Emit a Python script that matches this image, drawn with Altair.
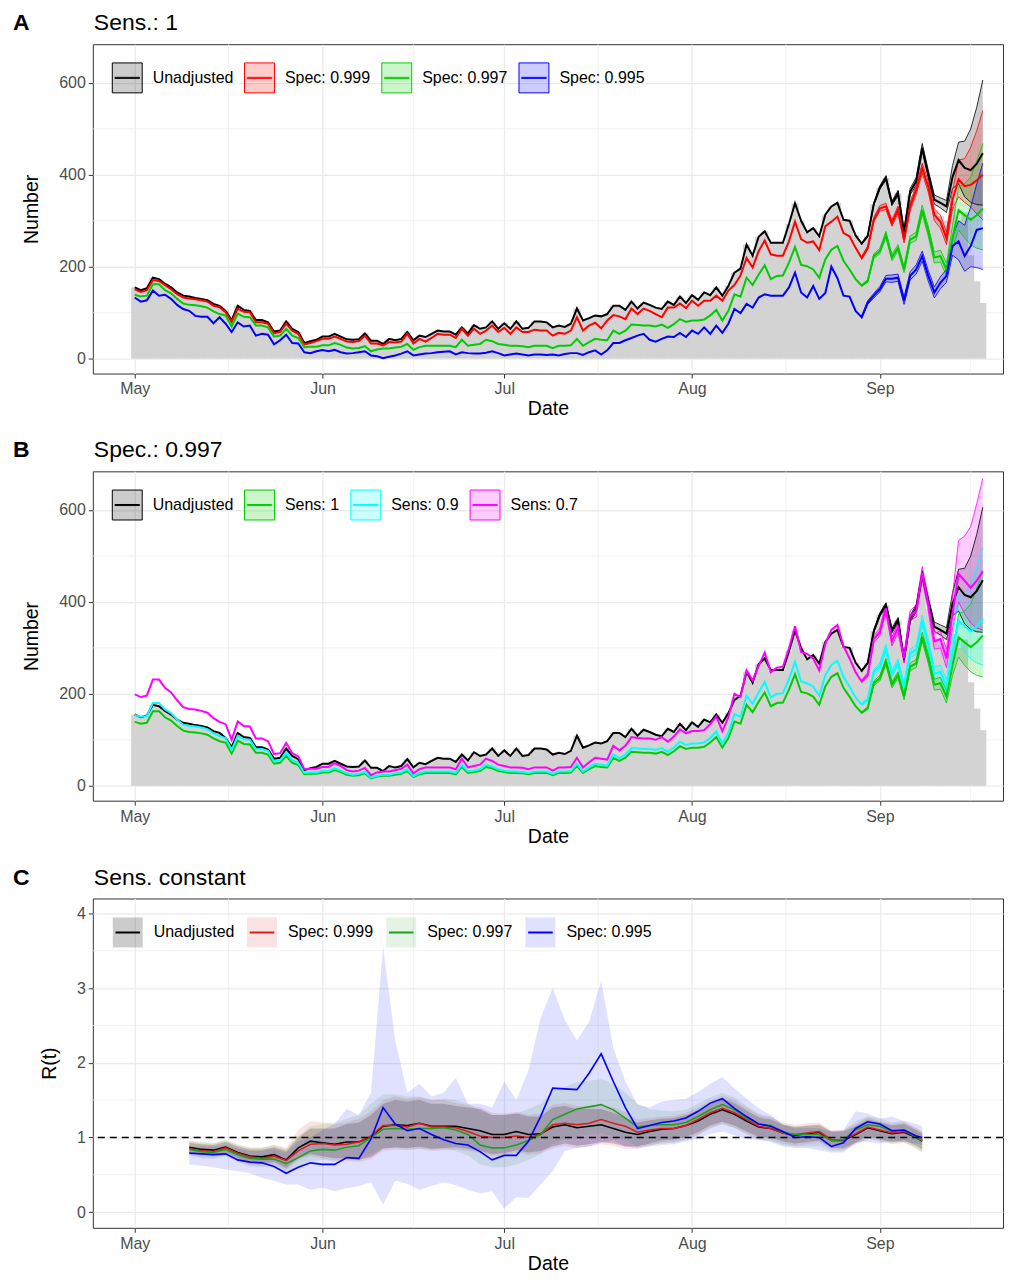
import altair as alt
import pandas as pd

FONT = "Liberation Sans"

# ---------------- data: panels A / B (daily, 1 May .. 18 Sep) ----------------
DATES = pd.date_range("2020-05-01", periods=141)
RIB_DATES = pd.date_range("2020-08-29", periods=21)

UNADJ = [155,149,153,176,173,163,155,144,137,135,
         132,130,127,119,115,104,84,115,106,104,
         84,84,79,59,61,81,65,58,34,38,
         41,48,48,54,48,42,41,42,55,39,
         39,32,43,40,43,58,40,50,47,54,
         61,59,59,52,68,55,73,65,68,81,
         65,77,65,81,65,67,81,81,79,68,
         72,69,76,109,83,88,94,92,97,115,
         115,106,124,109,122,117,111,108,124,117,
         135,121,138,128,144,138,155,137,158,187,
         196,248,224,265,277,252,252,252,293,338,
         300,275,284,266,313,331,339,302,300,268,
         250,267,336,372,393,338,360,275,363,386,
         459,401,346,339,331,395,432,415,410,424,447]
BARS_TAIL = [355,372,440,385,320,310,300,330,300,318,225,168,121]
BARS = UNADJ[:128] + BARS_TAIL

SPEC999 = [151,145,149,171,169,160,151,140,133,131,
           129,127,124,115,112,101,80,109,102,101,
           79,79,76,55,58,76,61,54,31,34,
           38,43,43,48,43,37,36,38,50,33,
           33,29,36,35,37,54,33,43,37,45,
           54,52,52,45,65,50,65,54,61,72,
           58,67,54,68,58,58,63,61,61,50,
           56,54,61,90,61,72,78,66,83,95,
           92,86,109,97,109,104,97,90,111,111,
           120,110,126,115,126,126,137,126,148,160,
           181,219,198,234,257,227,224,224,255,298,
           260,252,255,236,288,298,309,273,266,241,
           219,241,302,327,331,295,324,259,331,367,
           414,374,313,298,262,345,390,375,378,388,400]
SPEC997 = [139,135,137,162,162,149,142,130,120,117,
           116,114,111,103,97,94,70,98,91,90,
           72,72,68,48,50,65,50,45,25,26,
           26,29,29,34,30,24,22,23,27,16,
           20,22,22,24,26,32,19,25,28,28,
           28,28,28,25,41,28,30,32,41,38,
           32,30,28,28,27,25,28,28,28,23,
           28,28,29,43,28,36,43,41,40,61,
           54,61,74,73,72,72,70,74,67,75,
           86,80,83,83,85,94,106,83,104,140,
           135,176,160,183,203,173,180,181,209,243,
           204,201,194,176,216,237,245,213,194,173,
           159,169,223,234,270,220,241,194,259,266,
           324,277,220,223,194,262,323,312,302,312,327]
SPEC995 = [133,124,127,148,137,139,130,117,108,104,
           93,91,91,77,90,76,58,79,70,72,
           50,54,52,31,40,52,34,33,14,12,
           16,19,16,19,14,11,12,14,16,7,
           5,1,4,7,11,16,7,9,11,12,
           14,15,16,9,14,12,11,11,13,16,
           12,7,9,11,9,7,9,9,8,9,
           7,10,12,12,8,14,18,9,18,34,
           34,40,45,50,54,41,37,43,48,47,
           56,47,61,54,68,54,72,56,76,108,
           99,119,111,133,140,137,137,137,155,187,
           144,133,158,130,143,200,175,137,135,104,
           90,122,137,151,174,174,176,126,180,194,
           223,180,144,165,180,245,255,223,245,280,284]
SENS09 = [154,150,152,180,180,166,158,144,133,130,
          129,127,123,114,108,104,78,109,101,100,
          80,80,76,53,56,72,56,50,28,29,
          29,32,32,38,33,27,24,26,30,18,
          22,24,24,27,29,36,21,28,31,31,
          31,31,31,28,46,31,33,36,46,42,
          36,33,31,31,30,28,31,31,31,26,
          31,31,32,48,31,40,48,46,44,68,
          60,68,82,81,80,80,78,82,74,83,
          96,89,92,92,94,104,118,92,116,156,
          150,196,178,203,226,192,200,201,232,270,
          227,223,216,196,240,263,272,237,216,192,
          177,188,248,260,300,244,268,216,288,296,
          360,308,244,248,216,291,359,347,336,347,363]
SENS07 = [199,193,196,231,231,213,203,186,171,167,
          166,163,159,147,139,134,100,140,130,129,
          103,103,97,69,71,93,71,64,36,37,
          37,41,41,49,43,34,31,33,39,23,
          29,31,31,34,37,46,27,36,40,40,
          40,40,40,36,59,40,43,46,59,54,
          46,43,40,40,39,36,40,40,40,33,
          40,40,41,61,40,51,61,59,57,87,
          77,87,106,104,103,103,100,106,96,107,
          123,114,119,119,121,134,151,119,149,200,
          193,251,229,261,290,247,257,259,299,347,
          291,287,277,251,309,339,350,304,277,247,
          227,241,319,334,386,314,344,277,370,380,
          463,396,314,319,277,374,461,446,431,446,467]

# uncertainty bands over the last three weeks (29 Aug .. 18 Sep)
UNADJ_LO = [248,265,333,368,388,333,354,270,356,378,450,392,336,328,318,370,380,352,340,335,334]
UNADJ_HI = [252,269,339,376,398,343,366,280,370,394,468,410,356,350,344,420,471,473,500,547,606]
S999_LO = [216,237,297,321,324,288,316,252,322,357,403,362,300,284,248,325,352,340,330,315,302]
S999_HI = [222,245,307,333,338,302,332,266,340,377,425,386,326,312,276,365,432,435,460,496,540]
S997_LO = [157,166,218,228,263,213,234,187,251,257,314,266,208,210,180,240,280,262,248,240,237]
S997_HI = [161,172,228,240,277,227,248,201,267,275,334,288,232,236,208,290,374,380,395,430,468]
S995_LO = [87,118,132,145,167,166,168,118,171,184,212,168,132,152,166,225,215,190,200,198,194]
S995_HI = [93,126,142,157,181,182,184,134,189,204,234,192,156,178,194,265,300,290,330,380,425]
SE09_LO = [174,184,242,253,292,237,260,208,279,286,349,296,231,233,200,267,311,291,276,267,263]
SE09_HI = [179,191,253,267,308,252,276,223,297,306,371,320,258,262,231,322,416,422,439,478,520]
SE07_LO = [224,237,311,326,376,304,334,267,359,367,449,380,297,300,257,343,400,374,354,343,339]
SE07_HI = [230,246,326,343,396,324,354,287,381,393,477,411,331,337,297,414,534,543,564,614,669]

# ---------------- data: panel C (R(t), every 2nd day 10 May .. 8 Sep) ----------------
C_DATES = list(pd.date_range("2020-05-10", periods=61, freq="2D")) + [pd.Timestamp("2020-09-08")]
R_UNADJ = [.87,.84,.83,.87,.80,.75,.74,.77,.70,.86, .95,.93,.91,.94,.94,1.01,1.15,1.17,1.16,1.19,
           1.15,1.15,1.15,1.12,1.09,1.04,1.04,1.08,1.04,1.05, 1.14,1.17,1.13,1.15,1.17,1.12,1.07,1.04,1.08,1.11,
           1.12,1.16,1.22,1.31,1.37,1.31,1.22,1.14,1.12,1.06, 1.03,1.05,1.07,.96,.96,1.04,1.13,1.09,1.05,1.07,
           1.0,.95]
R_S999 = [.85,.82,.81,.86,.79,.74,.72,.75,.69,.82, .91,.92,.90,.91,.94,1.02,1.16,1.16,1.14,1.19,
          1.14,1.14,1.13,1.08,1.02,1.00,1.00,1.02,1.00,1.04, 1.17,1.19,1.17,1.19,1.24,1.19,1.15,1.07,1.10,1.12,
          1.12,1.16,1.24,1.33,1.39,1.33,1.24,1.15,1.12,1.06, 1.04,1.06,1.08,.97,.97,1.05,1.14,1.10,1.06,1.08,
          1.02,.97]
R_S997 = [.84,.81,.80,.84,.77,.72,.71,.71,.65,.73, .82,.84,.83,.87,.89,1.0,1.11,1.12,1.11,1.12,
          1.12,1.13,1.10,1.04,.90,.86,.86,.90,.96,1.04, 1.24,1.31,1.38,1.41,1.44,1.37,1.26,1.14,1.16,1.17,
          1.17,1.2,1.28,1.37,1.44,1.37,1.26,1.18,1.16,1.07, 1.04,1.04,1.04,.96,.97,1.1,1.17,1.15,1.08,1.10,
          1.0,.96]
R_S995 = [.79,.78,.77,.78,.70,.67,.66,.61,.52,.60, .66,.64,.64,.73,.72,.98,1.40,1.18,1.09,1.12,
          1.04,.97,.92,.90,.81,.70,.76,.76,.95,1.28, 1.66,1.65,1.64,1.86,2.12,1.75,1.40,1.12,1.16,1.20,
          1.22,1.26,1.35,1.46,1.52,1.39,1.28,1.18,1.15,1.08, 1.0,1.01,1.0,.88,.93,1.12,1.21,1.18,1.09,1.10,
          1.02,1.0]
R_UNADJ_HI = [.93,.91,.90,.94,.88,.84,.84,.87,.82,1.0, 1.12,1.12,1.12,1.18,1.2,1.3,1.45,1.5,1.48,1.5,
              1.45,1.45,1.42,1.4,1.38,1.3,1.3,1.32,1.28,1.28, 1.4,1.42,1.38,1.38,1.38,1.33,1.26,1.2,1.23,1.25,
              1.26,1.3,1.36,1.45,1.52,1.46,1.36,1.27,1.24,1.17, 1.14,1.16,1.17,1.08,1.08,1.15,1.24,1.2,1.16,1.18,
              1.1,1.05]
R_UNADJ_LO = [.80,.77,.76,.80,.72,.66,.65,.67,.59,.72, .78,.75,.72,.72,.70,.74,.85,.87,.86,.88,
              .85,.86,.87,.85,.82,.78,.79,.83,.80,.82, .88,.92,.89,.91,.94,.92,.88,.88,.92,.96,
              .97,1.01,1.07,1.16,1.21,1.16,1.08,1.01,1.0,.95, .92,.94,.96,.86,.86,.93,1.02,.98,.94,.96,
              .89,.84]
R_S999_HI = [.95,.93,.92,.96,.90,.86,.86,.90,.86,1.1, 1.22,1.2,1.18,1.2,1.25,1.35,1.5,1.55,1.52,1.54,
             1.5,1.5,1.46,1.43,1.4,1.33,1.32,1.34,1.3,1.32, 1.44,1.46,1.42,1.42,1.44,1.4,1.34,1.24,1.26,1.28,
             1.29,1.33,1.4,1.49,1.56,1.5,1.4,1.3,1.27,1.2, 1.17,1.19,1.2,1.1,1.1,1.18,1.27,1.22,1.18,1.2,
             1.13,1.08]
R_S999_LO = [.77,.74,.73,.77,.69,.63,.62,.64,.56,.69, .75,.72,.69,.69,.67,.71,.82,.84,.83,.85,
             .82,.83,.84,.82,.79,.75,.76,.80,.77,.79, .85,.89,.86,.88,.91,.89,.85,.85,.89,.93,
             .94,.98,1.04,1.13,1.18,1.13,1.05,.98,.97,.92, .89,.91,.93,.85,.84,.90,.99,.95,.91,.93,
             .86,.81]
R_S997_HI = [.96,.94,.93,.97,.91,.87,.87,.9,.85,1.02, 1.15,1.18,1.2,1.25,1.3,1.45,1.58,1.58,1.55,1.55,
             1.5,1.52,1.5,1.45,1.35,1.3,1.3,1.32,1.38,1.45, 1.62,1.68,1.74,1.76,1.78,1.72,1.6,1.45,1.38,1.36,
             1.35,1.37,1.45,1.54,1.6,1.54,1.42,1.32,1.28,1.18, 1.15,1.15,1.16,1.08,1.09,1.22,1.28,1.26,1.2,1.22,
             1.12,1.08]
R_S997_LO = [.75,.72,.71,.75,.67,.61,.60,.60,.52,.60, .68,.70,.68,.70,.70,.78,.86,.86,.85,.85,
             .84,.85,.82,.76,.64,.6,.6,.64,.7,.78, .92,.98,1.02,1.04,1.06,1.02,.96,.88,.9,.92,
             .93,.96,1.03,1.12,1.18,1.13,1.04,.97,.95,.9, .88,.88,.88,.82,.82,.92,.98,.96,.92,.94,
             .85,.8]
R_S995_HI = [.88,.88,.88,.90,.85,.82,.82,.85,.80,.95, 1.0,1.1,1.18,1.38,1.3,1.6,3.55,2.3,1.6,1.72,
             1.55,1.6,1.8,1.45,1.45,1.4,1.75,1.5,1.9,2.6, 3.0,2.57,2.3,2.55,3.1,2.2,1.75,1.44,1.4,1.48,
             1.5,1.52,1.61,1.72,1.81,1.66,1.52,1.39,1.3,1.17, 1.12,1.13,1.12,1.08,1.1,1.35,1.32,1.25,1.28,1.22,
             1.18,1.15]
R_S995_LO = [.64,.62,.60,.57,.55,.52,.46,.42,.37,.37, .30,.33,.28,.32,.35,.40,.10,.42,.38,.30,
             .35,.40,.36,.30,.25,.28,.05,.20,.19,.37, .55,.82,.86,.88,.93,.96,.88,.86,.88,.90,
             .91,.95,.98,1.05,1.08,1.03,.98,.96,.94,.88, .86,.86,.83,.80,.80,.93,.94,.92,.95,.94,
             .92,.90]

A_NAMES = ["Unadjusted", "Spec: 0.999", "Spec: 0.997", "Spec: 0.995"]
A_COLORS = ["#000000", "#FF0000", "#00CD00", "#0000FF"]
B_NAMES = ["Unadjusted", "Sens: 1", "Sens: 0.9", "Sens: 0.7"]
B_COLORS = ["#000000", "#00CD00", "#00FFFF", "#FF00FF"]
C_COLORS = ["#000000", "#DD1C1C", "#1F9F1F", "#0000FF"]
C_ALPHAS = [0.2, 0.12, 0.12, 0.12]

MONTH_TICKS = [alt.DateTime(year=2020, month=m, date=1) for m in (5, 6, 7, 8, 9)]
MINOR_X = ["2020-05-16 12:00", "2020-06-16 00:00", "2020-07-16 12:00", "2020-08-16 12:00", "2020-09-16 00:00"]
X0 = alt.DateTime(year=2020, month=4, date=24, hours=2)
X1 = alt.DateTime(year=2020, month=9, date=21, hours=8)

BOX_PATH = "M-1,-1H1V1H-1Z M-0.82,-0.035H0.82V0.035H-0.82Z"
LINE_PATH = "M-1,-1L-0.998,-1 M-0.82,0H0.82 M0.998,1L1,1"

PLOT_W = 912
PLOT_H = 330


def rgba(hexc, a):
    h = hexc.lstrip("#")
    return "rgba(%d,%d,%d,%s)" % (int(h[0:2], 16), int(h[2:4], 16), int(h[4:6], 16), a)


def long_df(dates, names, lists):
    rows = []
    for n, vals in zip(names, lists):
        for d, v in zip(dates, vals):
            rows.append({"date": d, "series": n, "v": v})
    return pd.DataFrame(rows)


def rib_df(dates, names, pairs):
    rows = []
    for n, (lo, hi) in zip(names, pairs):
        for d, l, h in zip(dates, lo, hi):
            rows.append({"date": d, "series": n, "sf": "f" + n, "lo": l, "hi": h})
    return pd.DataFrame(rows)


LEG_BASE = dict(orient="none", legendX=19, legendY=18, direction="horizontal", title=None,
                symbolSize=900, labelFont=FONT, labelFontSize=16, labelColor="black",
                labelOffset=10, columnPadding=8.5, padding=0, labelLimit=0)


def panel(letter, title, names, colors, alphas, dates, lines, rib_dates, ribs, ylab, ydom,
          yticks, yminor, bars=None, outline=True, split_legend=False, hline=False, lw=2.0):
    xs = alt.Scale(domain=[X0, X1])
    ys = alt.Scale(domain=ydom, nice=False, zero=False)
    ax = alt.Axis(values=MONTH_TICKS, format="%b", title="Date", grid=True, gridColor="#EBEBEB",
                  gridWidth=1.3, tickColor="#333333", tickSize=4.5, tickWidth=1,
                  labelColor="#4D4D4D", labelFontSize=16, labelFont=FONT, labelPadding=3,
                  labelFlush=False, labelOverlap=False, domain=False, titleFont=FONT,
                  titleFontSize=19.5, titleFontWeight="normal", titleColor="black", titlePadding=3)
    ay = alt.Axis(values=yticks, title=ylab, grid=True, gridColor="#EBEBEB", gridWidth=1.3,
                  tickColor="#333333", tickSize=4.5, tickWidth=1, labelColor="#4D4D4D",
                  labelFontSize=16, labelFont=FONT, labelPadding=3, labelFlush=False,
                  labelOverlap=False, domain=False, titleFont=FONT, titleFontSize=19.5,
                  titleFontWeight="normal", titleColor="black", titlePadding=17)

    def X(f):
        return alt.X(f, type="temporal", scale=xs, axis=ax)

    def Y(f):
        return alt.Y(f, type="quantitative", scale=ys, axis=ay)

    fills = [rgba(c, a) for c, a in zip(colors, alphas)]
    if split_legend:
        fill_leg = alt.Legend(symbolType="square", symbolStrokeColor="transparent",
                              symbolStrokeWidth=2, labelExpr="slice(datum.label, 1)",
                              labelOpacity=0, **LEG_BASE)
        stroke_leg = alt.Legend(symbolType=LINE_PATH, symbolStrokeWidth=2, **LEG_BASE)
        fill_enc = alt.Fill("sf:N", scale=alt.Scale(domain=["f" + n for n in names], range=fills),
                            legend=fill_leg)
    else:
        common = alt.Legend(symbolType=BOX_PATH, symbolStrokeWidth=1, **LEG_BASE)
        stroke_leg = common
        fill_enc = alt.Fill("series:N", scale=alt.Scale(domain=names, range=fills), legend=common)
    stroke_enc = alt.Stroke("series:N", scale=alt.Scale(domain=names, range=colors), legend=stroke_leg)

    layers = []
    mx = pd.DataFrame({"d": pd.to_datetime(MINOR_X)})
    layers.append(alt.Chart(mx).mark_rule(color="#EBEBEB", strokeWidth=0.7).encode(x=X("d")))
    my = pd.DataFrame({"v": yminor})
    layers.append(alt.Chart(my).mark_rule(color="#EBEBEB", strokeWidth=0.7).encode(y=Y("v")))
    if bars is not None:
        bdf = pd.DataFrame({"date": dates, "v": bars})
        # bars one day wide, drawn with a slight overlap so no seams show between them
        bdf["start"] = bdf["date"] - pd.Timedelta(hours=14)
        bdf["end"] = bdf["date"] + pd.Timedelta(hours=14)
        bdf["z"] = 0
        layers.append(alt.Chart(bdf).mark_bar(color="#D3D3D3").encode(
            x=X("start"), x2="end:T", y=Y("v"), y2="z:Q"))
    rdf = rib_df(rib_dates, names, ribs)
    layers.append(alt.Chart(rdf).mark_area().encode(x=X("date"), y=Y("lo"), y2="hi:Q", fill=fill_enc))
    if outline:
        layers.append(alt.Chart(rdf).mark_line(strokeWidth=0.8).encode(
            x=X("date"), y=Y("lo"), stroke=stroke_enc))
        layers.append(alt.Chart(rdf).mark_line(strokeWidth=0.8).encode(
            x=X("date"), y=Y("hi"), stroke=stroke_enc))
    ldf = long_df(dates, names, lines)
    layers.append(alt.Chart(ldf).mark_line(strokeWidth=lw).encode(
        x=X("date"), y=Y("v"), stroke=stroke_enc))
    if hline:
        hdf = pd.DataFrame({"v": [1]})
        layers.append(alt.Chart(hdf).mark_rule(color="black", strokeDash=[7, 5], strokeWidth=1.5)
                      .encode(y=Y("v")))
    tdf = pd.DataFrame({"t": [letter], "s": [title]})
    layers.append(alt.Chart(tdf).mark_text(align="left", baseline="alphabetic", font=FONT,
                                           fontSize=23, fontWeight="bold", color="black")
                  .encode(x=alt.value(-80), y=alt.value(-14), text="t:N"))
    layers.append(alt.Chart(tdf).mark_text(align="left", baseline="alphabetic", font=FONT,
                                           fontSize=23, color="black")
                  .encode(x=alt.value(1), y=alt.value(-14), text="s:N"))
    return alt.layer(*layers).properties(width=PLOT_W, height=PLOT_H)


pA = panel("A", "Sens.: 1", A_NAMES, A_COLORS, [0.2] * 4, DATES,
           [UNADJ, SPEC999, SPEC997, SPEC995], RIB_DATES,
           [(UNADJ_LO, UNADJ_HI), (S999_LO, S999_HI), (S997_LO, S997_HI), (S995_LO, S995_HI)],
           "Number", [-32.4, 684], [0, 200, 400, 600], [100, 300, 500], bars=BARS)
pB = panel("B", "Spec.: 0.997", B_NAMES, B_COLORS, [0.2] * 4, DATES,
           [UNADJ, SPEC997, SENS09, SENS07], RIB_DATES,
           [(UNADJ_LO, UNADJ_HI), (S997_LO, S997_HI), (SE09_LO, SE09_HI), (SE07_LO, SE07_HI)],
           "Number", [-32.4, 684], [0, 200, 400, 600], [100, 300, 500], bars=BARS)
pC = panel("C", "Sens. constant", A_NAMES, C_COLORS, C_ALPHAS, C_DATES,
           [R_UNADJ, R_S999, R_S997, R_S995], C_DATES,
           [(R_UNADJ_LO, R_UNADJ_HI), (R_S999_LO, R_S999_HI), (R_S997_LO, R_S997_HI),
            (R_S995_LO, R_S995_HI)],
           "R(t)", [-0.21, 4.2], [0, 1, 2, 3, 4], [0.5, 1.5, 2.5, 3.5],
           outline=False, split_legend=True, hline=True, lw=1.6)

chart = (alt.vconcat(pA, pB, pC, spacing=19)
         .resolve_scale(x="independent", y="independent", fill="independent", stroke="independent")
         .resolve_legend(fill="independent", stroke="independent")
         .configure(padding={"left": 4, "top": 2, "right": 0, "bottom": 0}, font=FONT)
         .configure_view(stroke="#333333", strokeWidth=1, fill="white"))

chart.save("out.html", embed_options={"renderer": "svg", "actions": False})
